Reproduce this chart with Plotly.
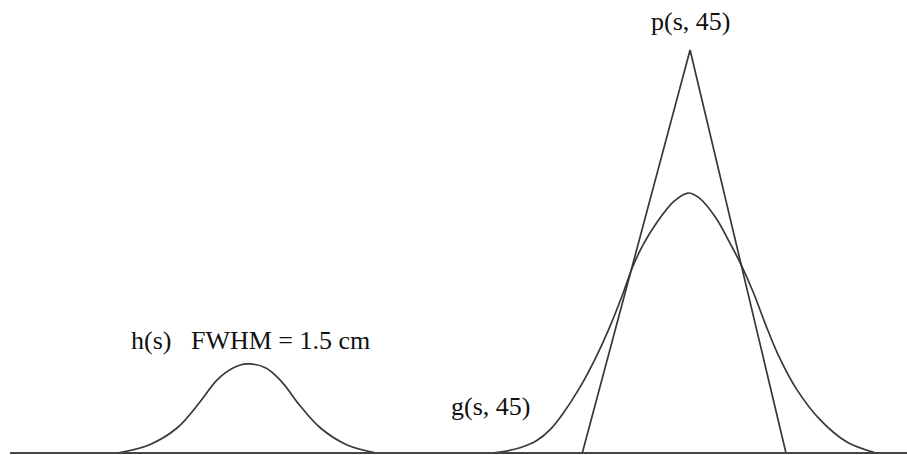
import plotly.graph_objects as go

# h(s): detector response, FWHM = 1.5 cm  (s in cm, values relative to p peak)
h_s = [-8.15, -7.7, -7.3, -6.97, -6.73, -6.5, -6.3, -6.03, -5.8, -5.55, -5.25, -4.87, -4.45]
h_v = [0.0, 0.02, 0.062, 0.127, 0.181, 0.211, 0.221, 0.211, 0.176, 0.119, 0.062, 0.02, 0.0]

# g(s, 45): blurred projection
g_s = [-2.81, -2.69, -2.4, -2.16, -1.97, -1.79, -1.54, -1.3, -1.11, -0.93, -0.79, -0.64, -0.44, -0.21, 0.0,
       0.16, 0.4, 0.59, 0.76, 0.93, 1.11, 1.29, 1.56, 1.89, 2.27, 2.64, 2.69]
g_v = [0.0, 0.002, 0.013, 0.031, 0.058, 0.097, 0.164, 0.243, 0.316, 0.395, 0.462, 0.517, 0.573, 0.623, 0.645,
       0.633, 0.583, 0.524, 0.467, 0.40, 0.318, 0.243, 0.156, 0.082, 0.027, 0.002, 0.0]

# p(s, 45): ideal triangular projection
p_s = [-1.51, 0.03, 1.4]
p_v = [0.0, 1.0, 0.0]

labels = ["p(s, 45)", "h(s)\u00a0\u00a0\u00a0FWHM = 1.5 cm", "g(s, 45)"]

line_col = "#383838"
font = dict(family="Liberation Serif, Times New Roman, serif", size=26, color="#111111")

fig = go.Figure()
fig.add_trace(go.Scatter(x=h_s, y=h_v, mode="lines", line=dict(color=line_col, width=1.7, shape="spline", smoothing=1.0)))
fig.add_trace(go.Scatter(x=g_s, y=g_v, mode="lines", line=dict(color=line_col, width=1.7, shape="spline", smoothing=0.9)))
fig.add_trace(go.Scatter(x=p_s, y=p_v, mode="lines", line=dict(color=line_col, width=1.7)))

fig.add_annotation(x=0.03, y=1.07, text=labels[0], showarrow=False, xanchor="center", yanchor="middle", font=font)
fig.add_annotation(x=-7.99, y=0.28, text=labels[1], showarrow=False, xanchor="left", yanchor="middle", font=font)
fig.add_annotation(x=-2.23, y=0.115, text=labels[2], showarrow=False, xanchor="right", yanchor="middle", font=font)

# baseline (s axis)
fig.add_shape(type="line", xref="paper", yref="y", x0=0, x1=1, y0=0, y1=0,
              line=dict(color="#444444", width=2))

fig.update_layout(
    width=907, height=455,
    margin=dict(l=10, r=0, t=0, b=0),
    paper_bgcolor="white", plot_bgcolor="white",
    showlegend=False,
    xaxis=dict(range=[-9.686, 3.129], visible=False, fixedrange=True),
    yaxis=dict(range=[-0.005, 1.124], visible=False, fixedrange=True),
)

fig.write_html("out.html", config={"displayModeBar": False},
               post_script="document.body.style.margin='0';document.body.style.overflow='hidden';")
